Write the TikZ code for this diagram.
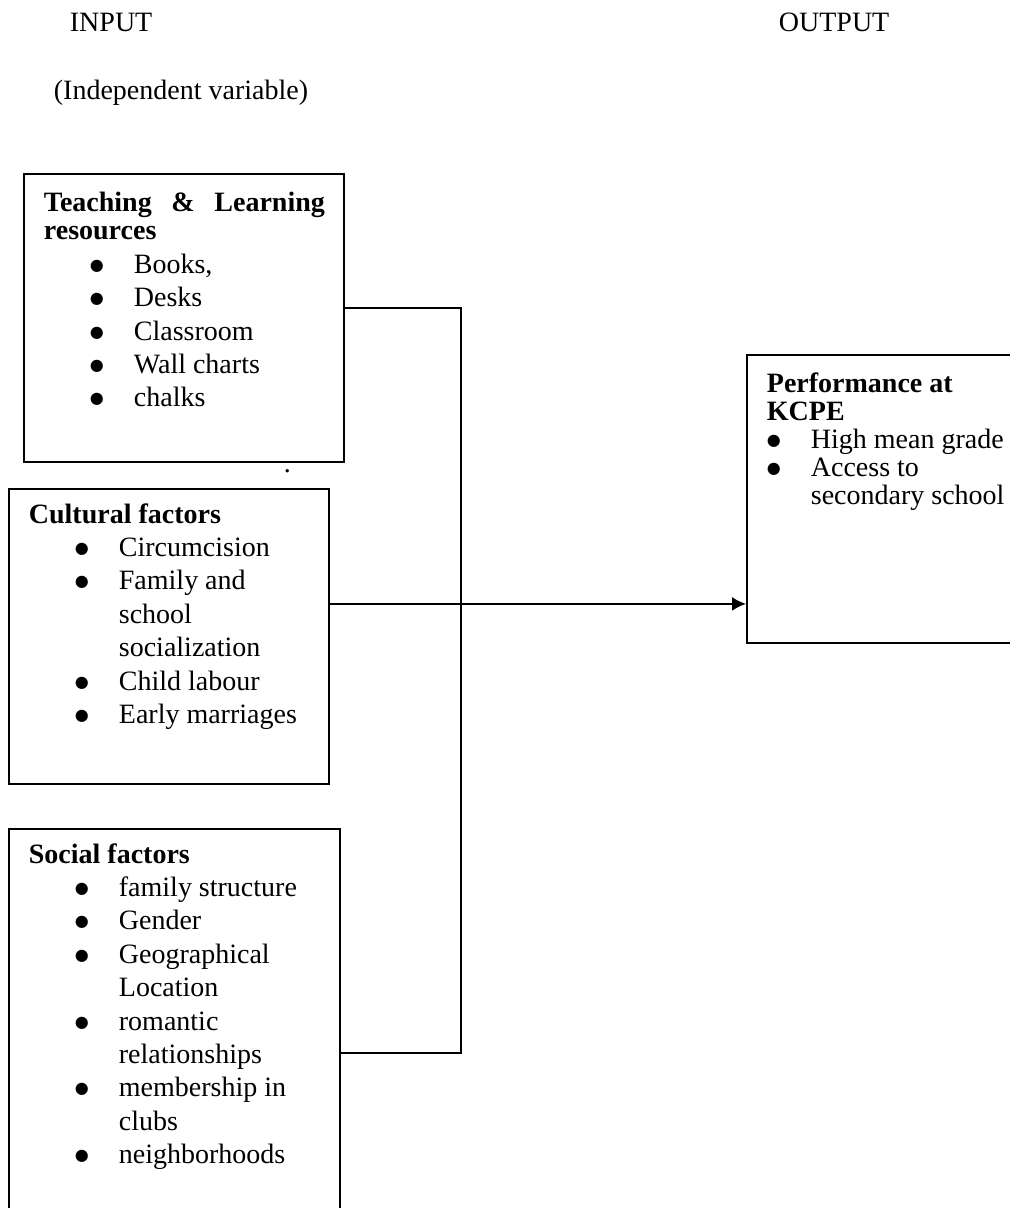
\documentclass[tikz,border=0pt]{standalone}
\usepackage{fontspec}
\setmainfont{Liberation Serif}
\newfontfamily\symfont{DejaVu Sans}
\usetikzlibrary{arrows.meta}
\newcommand{\itm}[1][23pt]{\hspace*{#1}\makebox[22pt][l]{\raisebox{1.5pt}{\symfont\fontsize{8}{8}\selectfont ●}}}
\newcommand{\cnt}[1][23pt]{\hspace*{\dimexpr #1+22pt\relax}}

\begin{document}
\begin{tikzpicture}[x=0.5pt,y=-0.5pt,>={Latex[length=7pt,width=7pt]},line width=0.9pt]
\tikzstyle{box}=[rectangle,draw=black,anchor=north west,inner sep=0pt]
\tikzstyle{txt}=[anchor=base west,inner sep=0pt,font=\fontsize{14}{14}\selectfont]
\useasboundingbox (0,0) rectangle (1010,1208);
\clip (0,0) rectangle (1010,1208);
\node[txt] (inp) at (69,32) {INPUT};
\node[txt] (outp) at (778,32) {OUTPUT};
\node[txt] (indep) at (53,100) {(Independent variable)};
% input boxes
\node[box,minimum width=160pt,minimum height=144pt] (tlr) at (23,173) {};
\node[box,minimum width=160pt,minimum height=147.5pt] (cult) at (8,488) {};
\node[box,minimum width=165.5pt,minimum height=224pt] (soc) at (8,828) {};
% output box
\node[box,minimum width=142pt,minimum height=144pt] (perf) at (746,354) {};
\node[txt] (tlrtxt) at (43,212) {\begin{tabular}[t]{@{}l@{}}
\textbf{\makebox[140.5pt][s]{Teaching\hfill\&\hfill Learning}}\\
\textbf{resources}\\[2.7pt]
\itm Books,\\[2.7pt]
\itm Desks\\[2.7pt]
\itm Classroom\\[2.7pt]
\itm Wall charts\\[2.7pt]
\itm chalks
\end{tabular}};
\node[txt] (dot) at (283,472) {.};
\node[txt] (culttxt) at (28,523) {\begin{tabular}[t]{@{}l@{}}
\textbf{Cultural factors}\\[2.7pt]
\itm Circumcision\\[2.7pt]
\itm Family and\\[2.7pt]
\cnt school\\[2.7pt]
\cnt socialization\\[2.7pt]
\itm Child labour\\[2.7pt]
\itm Early marriages
\end{tabular}};
\node[txt] (soctxt) at (28,863) {\begin{tabular}[t]{@{}l@{}}
\textbf{Social factors}\\[2.7pt]
\itm family structure\\[2.7pt]
\itm Gender\\[2.7pt]
\itm Geographical\\[2.7pt]
\cnt Location\\[2.7pt]
\itm romantic\\[2.7pt]
\cnt relationships\\[2.7pt]
\itm membership in\\[2.7pt]
\cnt clubs\\[2.7pt]
\itm neighborhoods
\end{tabular}};
\node[txt] (perftxt) at (766,392) {\begin{tabular}[t]{@{}l@{}}
\textbf{Performance at}\\
\textbf{KCPE}\\
\itm[0pt]High mean grade\\
\itm[0pt]Access to\\
\cnt[0pt]secondary school
\end{tabular}};
% connectors
\coordinate (jn) at (461,307);
\coordinate (ca) at ([yshift=16.25pt]cult.east);
\draw ([yshift=5pt]tlr.east) -| (jn |- soc.east) -- (soc.east);
\draw[->] (ca) -- (ca -| perf.west);
\end{tikzpicture}
\end{document}
